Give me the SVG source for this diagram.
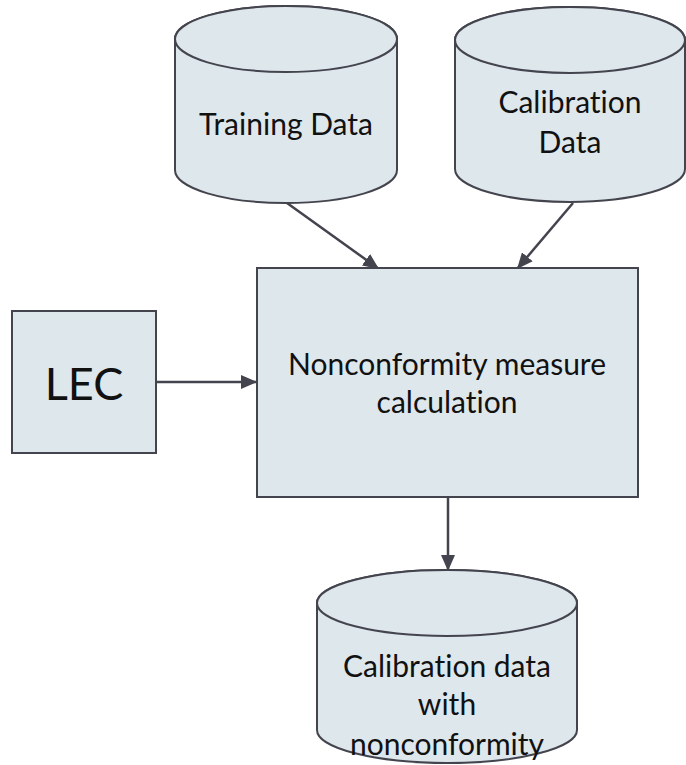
<svg xmlns="http://www.w3.org/2000/svg" width="686" height="765" viewBox="0 0 686 765">
<defs>
<style>
.shape{fill:#DEE7EC;stroke:#44444E;stroke-width:2}
.lbl{font-family:Lato,"Open Sans","Liberation Sans",sans-serif;font-size:30px;fill:#111;text-anchor:middle;font-variant-ligatures:none;font-feature-settings:"liga" 0,"clig" 0}
.conn{stroke:#44444E;stroke-width:2.5;fill:none;marker-end:url(#ah)}
</style>
<marker id="ah" viewBox="0 0 16 14" refX="16" refY="7" markerWidth="16" markerHeight="14" markerUnits="userSpaceOnUse" orient="auto">
<path d="M0,0 L16,7 L0,14 Z" fill="#44444E"/>
</marker>
</defs>
<rect width="686" height="765" fill="#fff"/>
<g id="connectors">
<line class="conn" x1="287" y1="203" x2="379" y2="269"/>
<line class="conn" x1="573" y1="203" x2="517" y2="269"/>
<line class="conn" x1="156" y1="382" x2="257" y2="382"/>
<line class="conn" x1="448" y1="497" x2="448" y2="571"/>
</g>
<g id="training-data">
<path class="shape" d="M175,39 L175,170 A111,33 0 0 0 397,170 L397,39 A111,33 0 0 0 175,39 Z"/>
<ellipse class="shape" cx="286" cy="39" rx="111" ry="33"/>
<text class="lbl" x="286" y="135">Training Data</text>
</g>
<g id="calibration-data">
<path class="shape" d="M455,40 L455,169 A115,33 0 0 0 685,169 L685,40 A115,33 0 0 0 455,40 Z"/>
<ellipse class="shape" cx="570" cy="40" rx="115" ry="33"/>
<text class="lbl" x="570" y="113">Calibration</text>
<text class="lbl" x="570" y="153">Data</text>
</g>
<g id="lec">
<rect class="shape" x="12" y="311" width="144" height="142"/>
<text class="lbl" x="84" y="400" style="font-size:45px">LEC</text>
</g>
<g id="nonconformity-calc">
<rect class="shape" x="257" y="268" width="381" height="229"/>
<text class="lbl" x="447" y="375">Nonconformity measure</text>
<text class="lbl" x="447" y="413">calculation</text>
</g>
<g id="calibration-nonconformity">
<path class="shape" d="M317,603 L317,730 A130,33 0 0 0 577,730 L577,603 A130,33 0 0 0 317,603 Z"/>
<ellipse class="shape" cx="447" cy="603" rx="130" ry="33"/>
<text class="lbl" x="447" y="677">Calibration data</text>
<text class="lbl" x="447" y="715">with</text>
<text class="lbl" x="447" y="755">nonconformity</text>
</g>
</svg>
